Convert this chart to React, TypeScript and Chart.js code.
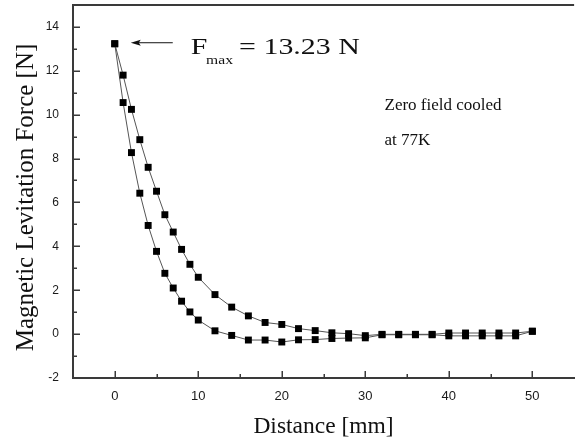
import React, { useEffect, useRef } from 'react';
import { Chart, registerables } from 'chart.js';

Chart.register(...registerables);

// ---- data ----
const DISTANCE = [0, 1, 2, 3, 4, 5, 6, 7, 8, 9, 10, 12, 14, 16, 18, 20, 22, 24, 26, 28, 30, 32, 34, 36, 38, 40, 42, 44, 46, 48, 50];
const FORCE_UPPER = [13.23, 11.8, 10.24, 8.86, 7.6, 6.51, 5.44, 4.65, 3.86, 3.18, 2.59, 1.8, 1.23, 0.83, 0.53, 0.44, 0.25, 0.16, 0.06, 0.02, -0.07, -0.01, -0.01, -0.01, -0.01, 0.05, 0.05, 0.05, 0.05, 0.05, 0.13];
const FORCE_LOWER = [13.23, 10.55, 8.27, 6.42, 4.95, 3.77, 2.77, 2.1, 1.5, 1.01, 0.64, 0.15, -0.06, -0.27, -0.27, -0.36, -0.26, -0.25, -0.2, -0.18, -0.17, -0.03, -0.03, -0.03, -0.03, -0.08, -0.08, -0.08, -0.08, -0.08, 0.13];
const X_TICKS = [0, 10, 20, 30, 40, 50];
const Y_TICKS = [-2, 0, 2, 4, 6, 8, 10, 12, 14];
const X_MIN = -5;
const X_MAX = 55;
const Y_MIN = -2;
const Y_MAX = 15;
const F_MAX = 13.23;
const F_MAX_X = 0;
const NOTE_LINES = ['Zero field cooled', 'at 77K'];
const NOTE_X = 32.3;
const NOTE_Y = [10.2, 8.6];
const Y_TITLE = 'Magnetic Levitation Force [N]';
const X_TITLE = 'Distance [mm]';

const SERIF = '"Liberation Serif", "Times New Roman", serif';
const SANS = '"Liberation Sans", Arial, sans-serif';

const decorations = {
  id: 'decorations',
  afterDraw(chart: any) {
    const { ctx, chartArea: a, scales } = chart;
    const xs = scales.x;
    const ys = scales.y;
    ctx.save();
    // top frame line
    ctx.strokeStyle = '#3a3a3a';
    ctx.lineWidth = 2;
    ctx.beginPath();
    ctx.moveTo(a.left - 1, a.top);
    ctx.lineTo(a.right, a.top);
    ctx.stroke();
    // inward ticks
    ctx.lineWidth = 1.5;
    ctx.beginPath();
    for (let v = X_MIN + 5; v < X_MAX; v += 5) {
      const px = Math.round(xs.getPixelForValue(v)) + 0.25;
      const len = v % 10 === 0 ? 7 : 4;
      ctx.moveTo(px, a.bottom);
      ctx.lineTo(px, a.bottom - len);
    }
    for (let v = Y_MIN + 1; v < Y_MAX; v += 1) {
      const py = Math.round(ys.getPixelForValue(v)) + 0.25;
      const len = v % 2 === 0 ? 7 : 4;
      ctx.moveTo(a.left, py);
      ctx.lineTo(a.left + len, py);
    }
    ctx.stroke();

    // y-axis title
    ctx.save();
    ctx.fillStyle = '#111';
    ctx.font = `25px ${SERIF}`;
    ctx.textAlign = 'center';
    ctx.textBaseline = 'middle';
    ctx.translate(26, (a.top + a.bottom) / 2 + 6);
    ctx.rotate(-Math.PI / 2);
    ctx.fillText(Y_TITLE, 0, 0);
    ctx.restore();

    // F_max annotation
    const px = xs.getPixelForValue(F_MAX_X);
    const py = ys.getPixelForValue(F_MAX);
    ctx.strokeStyle = '#111';
    ctx.fillStyle = '#111';
    ctx.lineWidth = 1;
    ctx.beginPath();
    ctx.moveTo(px + 22, py - 1);
    ctx.lineTo(px + 58, py - 1);
    ctx.stroke();
    ctx.beginPath();
    ctx.moveTo(px + 16, py - 1);
    ctx.lineTo(px + 26, py - 4);
    ctx.lineTo(px + 24, py - 1);
    ctx.lineTo(px + 26, py + 2);
    ctx.closePath();
    ctx.fill();

    ctx.save();
    ctx.textBaseline = 'alphabetic';
    ctx.textAlign = 'left';
    ctx.translate(px + 76, py + 10);
    ctx.scale(1.3, 1);
    ctx.font = `23px ${SERIF}`;
    let tx = 0;
    ctx.fillText('F', tx, 0);
    tx += ctx.measureText('F').width;
    ctx.font = `12px ${SERIF}`;
    ctx.fillText('max', tx - 1, 10);
    tx += ctx.measureText('max').width;
    ctx.font = `23px ${SERIF}`;
    ctx.fillText(' = ' + F_MAX.toFixed(2) + ' N', tx - 2, 0);
    ctx.restore();

    // note text
    ctx.fillStyle = '#111';
    ctx.textAlign = 'left';
    ctx.textBaseline = 'alphabetic';
    ctx.font = `17px ${SERIF}`;
    NOTE_LINES.forEach((t, i) => {
      ctx.fillText(t, xs.getPixelForValue(NOTE_X), ys.getPixelForValue(NOTE_Y[i]));
    });
    ctx.restore();
  },
};

export default function App() {
  const ref = useRef<HTMLCanvasElement>(null);
  useEffect(() => {
    if (!ref.current) return;
    const mk = (vals: number[]) => DISTANCE.map((d, i) => ({ x: d, y: vals[i] }));
    const ds = (label: string, vals: number[]) => ({
      label,
      data: mk(vals),
      borderColor: '#555',
      borderWidth: 1,
      pointStyle: 'rect',
      pointRadius: 4.9,
      pointBackgroundColor: '#000',
      pointBorderColor: '#000',
      pointBorderWidth: 0,
      tension: 0,
      fill: false,
    });
    const chart = new Chart(ref.current, {
      type: 'line',
      data: { datasets: [ds('upper', FORCE_UPPER), ds('lower', FORCE_LOWER)] },
      options: {
        animation: false,
        responsive: false,
        layout: { padding: { top: 4, left: 0, right: 0, bottom: 0 } },
        plugins: { legend: { display: false }, tooltip: { enabled: false } },
        scales: {
          x: {
            type: 'linear',
            min: X_MIN,
            max: X_MAX,
            afterFit: (s: any) => { s.height = 63; s.paddingLeft = 0; s.paddingRight = 0; },
            afterBuildTicks: (s: any) => { s.ticks = X_TICKS.map((v) => ({ value: v })); },
            grid: { display: false, drawTicks: false },
            border: { display: true, color: '#3a3a3a', width: 2 },
            ticks: { font: { family: SANS, size: 13 }, color: '#1a1a1a', padding: 11, maxRotation: 0 },
            title: { display: true, text: X_TITLE, font: { family: SERIF, size: 23.5 }, color: '#111', padding: { top: 0, bottom: 0 } },
          },
          y: {
            type: 'linear',
            min: Y_MIN,
            max: Y_MAX,
            afterFit: (s: any) => { s.width = 73; s.paddingTop = 0; s.paddingBottom = 0; },
            afterBuildTicks: (s: any) => { s.ticks = Y_TICKS.map((v) => ({ value: v })); },
            grid: { display: false, drawTicks: false },
            border: { display: true, color: '#3a3a3a', width: 2 },
            ticks: { font: { family: SANS, size: 12 }, color: '#1a1a1a', padding: 14 },
          },
        },
      },
      plugins: [decorations],
    } as any);
    return () => chart.destroy();
  }, []);
  return (
    <div style={{ position: 'fixed', left: 0, top: 0, width: 579, height: 441, background: '#fff' }}>
      <canvas ref={ref} width={579} height={441} style={{ width: 579, height: 441, display: 'block' }} />
    </div>
  );
}
